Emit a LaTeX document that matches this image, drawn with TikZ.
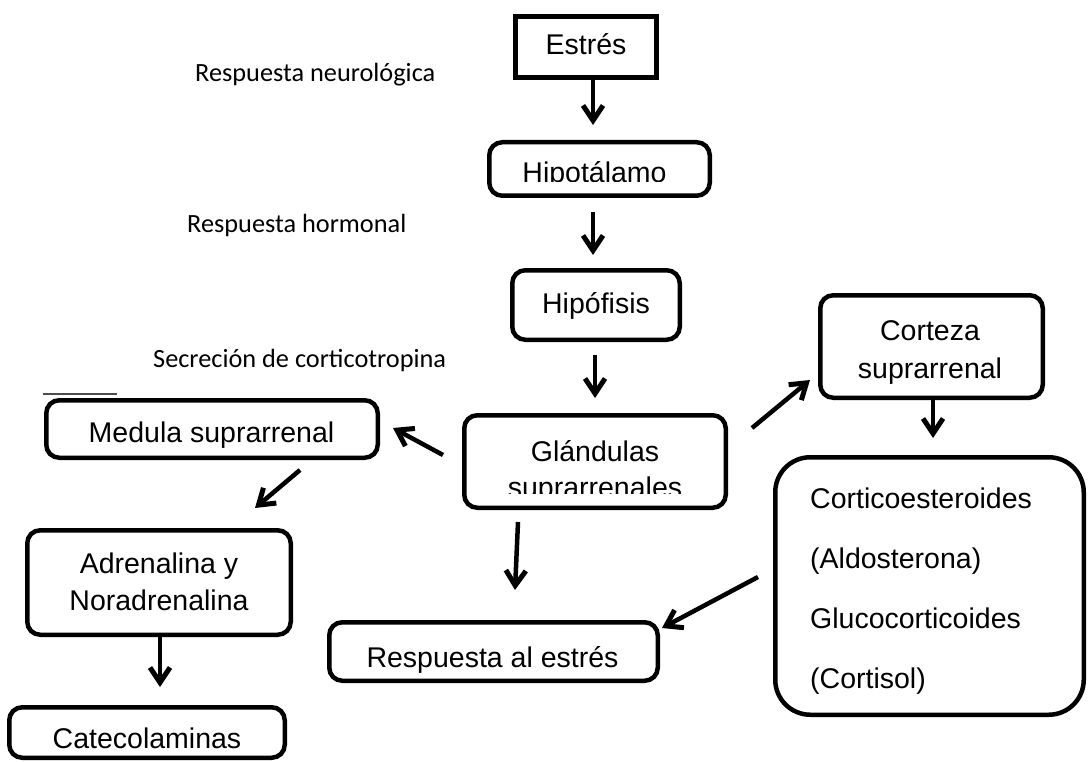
\documentclass[tikz,border=0pt]{standalone}
\usepackage{fontspec}
\setmainfont{Liberation Sans}
\newfontfamily\labelfont{Carlito}
\usetikzlibrary{arrows.meta}
\begin{document}
\begin{tikzpicture}[x=1pt,y=-1pt,
  box/.style={draw, line width=4.5pt, rounded corners=13pt, inner sep=0pt},
  sharpbox/.style={draw, line width=5pt, inner sep=0pt},
  txt/.style={inner sep=0pt, anchor=base, font=\fontsize{28.5}{34}\selectfont},
  ltxt/.style={inner sep=0pt, anchor=base west, font=\fontsize{28.5}{34}\selectfont},
  lab/.style={inner sep=0pt, anchor=base west, font=\labelfont\fontsize{26.3}{30}\selectfont},
  arr/.style={line width=4.5pt, -{Straight Barb[length=15pt,width=20pt,line width=5pt]}}]
\useasboundingbox (0,0) rectangle (1089,762);

% boxes
\node[sharpbox, minimum width=141.5pt, minimum height=61.5pt] (estres) at (586,47) {};
\node[box, minimum width=220.5pt, minimum height=53.5pt] (hipot) at (599.5,169) {};
\node[box, minimum width=167.5pt, minimum height=69.5pt] (hipof) at (596,305) {};
\node[box, minimum width=222.5pt, minimum height=102.5pt] (corteza) at (931.5,346.5) {};
\node[box, minimum width=331.5pt, minimum height=57.5pt] (medula) at (212,429) {};
\node[box, minimum width=261.5pt, minimum height=92.5pt] (glan) at (595,461.5) {};
\node[box, minimum width=263.5pt, minimum height=104.5pt] (adren) at (159,582.5) {};
\node[box, minimum width=275.5pt, minimum height=50.5pt] (cate) at (147,732.5) {};
\node[box, minimum width=328.5pt, minimum height=58.5pt] (resp) at (493.5,651.5) {};
\node[box, rounded corners=35pt, minimum width=308.5pt, minimum height=257.5pt] (cortico) at (929.5,586) {};

% small stray line above Medula box
\draw[line width=1.2pt, black!70] (43,394) -- (117,394);

% texts
\node[txt] (t-estres) at (586,55) {Estrés};
\begin{scope}
  \clip (480,140) rectangle (720,181.5);
  \node[txt] (t-hipot) at (594.5,183) {Hipotálamo};
\end{scope}
\node[txt] (t-hipof) at (596,313) {Hipófisis};
\node[txt] (t-cort1) at (930,340) {Corteza};
\node[txt] (t-cort2) at (930,378) {suprarrenal};
\node[txt] (t-medula) at (211.5,442) {Medula suprarrenal};
\node[txt] (t-glan1) at (595,461) {Glándulas};
\begin{scope}
  \clip (470,462) rectangle (720,493);
  \node[txt] (t-glan2) at (595,497) {suprarrenales};
\end{scope}
\node[txt] (t-adren1) at (159,573) {Adrenalina y};
\node[txt] (t-adren2) at (159,610) {Noradrenalina};
\node[txt] (t-cate) at (147,748) {Catecolaminas};
\node[txt] (t-resp) at (492.5,667) {Respuesta al estrés};
\node[ltxt] (t-c1) at (810,508) {Corticoesteroides};
\node[ltxt] (t-c2) at (810,568) {(Aldosterona)};
\node[ltxt] (t-c3) at (810,628) {Glucocorticoides};
\node[ltxt] (t-c4) at (810,688) {(Cortisol)};

% side labels
\node[lab] (l-neuro) at (195,82) {Respuesta neurológica};
\node[lab] (l-horm) at (187,232) {Respuesta hormonal};
\node[lab] (l-secr) at (153,367) {Secreción de corticotropina};

% arrow end points
\coordinate (a1s) at (593,80);  \coordinate (a1e) at (593,125);
\coordinate (a2s) at (593,212); \coordinate (a2e) at (593,255);
\coordinate (a3s) at (595,355); \coordinate (a3e) at (595,398);
\coordinate (a4s) at (443,455); \coordinate (a4e) at (393,428);
\coordinate (a5s) at (752,428); \coordinate (a5e) at (810,380);
\coordinate (a6s) at (300,470); \coordinate (a6e) at (255,508);
\coordinate (a7s) at (518,522); \coordinate (a7e) at (515,590);
\coordinate (a8s) at (758,577); \coordinate (a8e) at (662,628);
\coordinate (a9s) at (160,637); \coordinate (a9e) at (160,687);
\coordinate (a10s) at (933,400); \coordinate (a10e) at (933,438);

\draw[arr] (a1s) -- (a1e);
\draw[arr] (a2s) -- (a2e);
\draw[arr] (a3s) -- (a3e);
\draw[arr] (a4s) -- (a4e);
\draw[arr] (a5s) -- (a5e);
\draw[arr] (a6s) -- (a6e);
\draw[arr] (a7s) -- (a7e);
\draw[arr] (a8s) -- (a8e);
\draw[arr] (a9s) -- (a9e);
\draw[arr] (a10s) -- (a10e);
\end{tikzpicture}
\end{document}
